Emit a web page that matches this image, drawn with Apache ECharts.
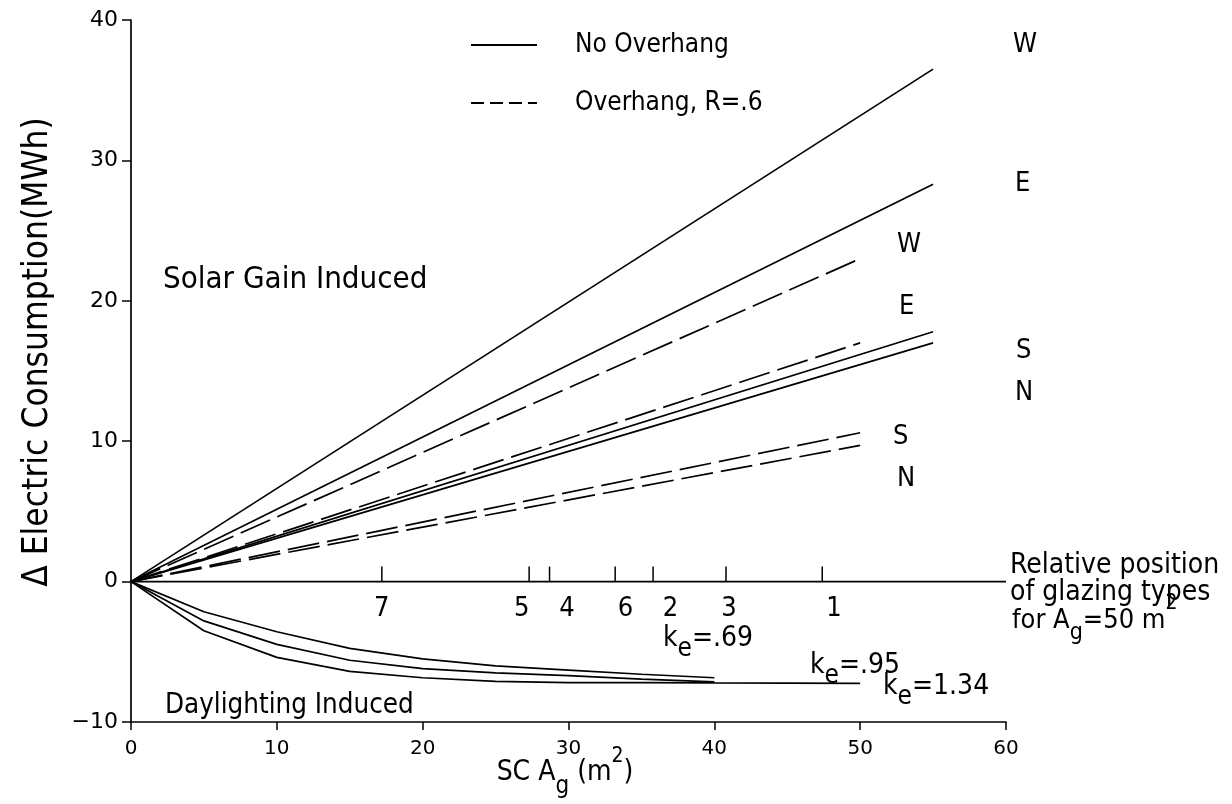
<!DOCTYPE html>
<html>
<head>
<meta charset="utf-8">
<script src="https://cdn.jsdelivr.net/npm/echarts@6/dist/echarts.min.js"></script>
<style>
html,body{margin:0;padding:0;background:#fff;}
#chart{width:1232px;height:804px;}
</style>
</head>
<body>
<div id="chart"></div>
<script>
// ---- data ----
const orientations = ['W', 'E', 'S', 'N'];
const noOverhangX = [0, 55];
const noOverhangEnd = [36.5, 28.3, 17.8, 17.0];
const overhangX = [0, 50];
const overhangEnd = [23.0, 17.0, 10.6, 9.7];

const dayX = [0, 5, 10, 15, 20, 25, 30, 35, 40, 45, 50];
const dayKe069 = [0, -2.15, -3.57, -4.76, -5.5, -6.0, -6.3, -6.6, -6.85];
const dayKe095 = [0, -2.8, -4.47, -5.6, -6.2, -6.5, -6.7, -6.95, -7.14];
const dayKe134 = [0, -3.5, -5.4, -6.4, -6.85, -7.1, -7.2, -7.2, -7.22, -7.23, -7.25];

const glazingTypes = ['7', '5', '4', '6', '2', '3', '1'];
const glazingPos = [17.2, 27.3, 28.7, 33.2, 35.8, 40.8, 47.4];
const glazingLabelPos = [17.2, 26.8, 29.9, 33.9, 37.0, 41.0, 48.2];

// ---- chart ----
const FONT = '"DejaVu Sans Condensed", "Liberation Sans Narrow", "DejaVu Sans", sans-serif';
const TICKFONT = '"DejaVu Sans", sans-serif';
const chart = echarts.init(document.getElementById('chart'), null, {renderer: 'canvas'});

function pairs(xs, ys) { return ys.map((y, i) => [xs[i], y]); }

const series = [];
orientations.forEach((o, i) => {
  series.push({
    name: 'No Overhang ' + o, type: 'line', symbol: 'none', silent: true,
    data: [[noOverhangX[0], 0], [noOverhangX[1], noOverhangEnd[i]]],
    lineStyle: {color: '#000', width: 1.7, type: 'solid'}
  });
  series.push({
    name: 'Overhang ' + o, type: 'line', symbol: 'none', silent: true,
    data: [[overhangX[0], 0], [overhangX[1], overhangEnd[i]]],
    lineStyle: {color: '#000', width: 1.7, type: [32, 8]}
  });
});
[['k_e=.69', dayKe069], ['k_e=.95', dayKe095], ['k_e=1.34', dayKe134]].forEach(([n, ys]) => {
  series.push({
    name: n, type: 'line', symbol: 'none', silent: true,
    data: pairs(dayX, ys),
    lineStyle: {color: '#000', width: 1.7}
  });
});
// zero line
series.push({
  name: 'zero', type: 'line', symbol: 'none', silent: true,
  data: [[0, 0], [60, 0]],
  lineStyle: {color: '#000', width: 1.7}
});
// glazing type position ticks
series.push({
  name: 'glazing', type: 'custom', silent: true,
  data: glazingTypes.map((t, i) => [glazingPos[i], glazingLabelPos[i]]),
  renderItem: function (params, api) {
    const p = api.coord([api.value(0), 0]);
    const lp = api.coord([api.value(1), 0]);
    return {
      type: 'group',
      children: [
        {type: 'line', shape: {x1: p[0], y1: p[1], x2: p[0], y2: p[1] - 15},
         style: {stroke: '#000', lineWidth: 1.5}},
        {type: 'text', x: lp[0], y: p[1] + 27,
         style: {text: glazingTypes[params.dataIndex], font: '27px ' + FONT, fill: '#000',
                 align: 'center', verticalAlign: 'middle'}}
      ]
    };
  }
});

const mctx = document.createElement('canvas').getContext('2d');
function measure(t, size) { mctx.font = size + 'px ' + FONT; return mctx.measureText(t).width; }

function txt(x, y, text, size) {
  return {type: 'text', x: x, y: y, silent: true,
    style: {text: text, font: size + 'px ' + FONT, fill: '#000', align: 'left', verticalAlign: 'middle'}};
}
// parts: [text, size, dy]
function segs(x, y, parts, align) {
  const widths = parts.map(p => measure(p[0], p[1]));
  const total = widths.reduce((a, b) => a + b, 0);
  let cx = align === 'center' ? x - total / 2 : x;
  const children = [];
  parts.forEach((p, i) => {
    children.push({type: 'text', x: cx, y: y + (p[2] || 0), silent: true,
      style: {text: p[0], font: p[1] + 'px ' + FONT, fill: '#000', align: 'left', verticalAlign: 'middle'}});
    cx += widths[i];
  });
  return {type: 'group', silent: true, children: children};
}

const option = {
  animation: false,
  backgroundColor: '#fff',
  grid: {left: 131, right: 226, top: 20, bottom: 82, containLabel: false},
  xAxis: {
    type: 'value', min: 0, max: 60, interval: 10,
    axisLine: {show: true, onZero: false, lineStyle: {color: '#000', width: 1.7}},
    axisTick: {show: true, length: 8, lineStyle: {color: '#000', width: 1.5}},
    axisLabel: {color: '#000', fontSize: 20, fontFamily: TICKFONT, margin: 17},
    splitLine: {show: false}
  },
  yAxis: {
    type: 'value', min: -10, max: 40, interval: 10,
    axisLine: {show: true, onZero: false, lineStyle: {color: '#000', width: 1.7}},
    axisTick: {show: true, length: 9, lineStyle: {color: '#000', width: 1.5}},
    axisLabel: {color: '#000', fontSize: 22, fontFamily: TICKFONT, margin: 13,
      formatter: v => (v < 0 ? '\u2212' + Math.abs(v) : '' + v)},
    splitLine: {show: false}
  },
  series: series,
  graphic: [
    // legend
    {type: 'line', silent: true, shape: {x1: 471, y1: 45, x2: 537, y2: 45}, style: {stroke: '#000', lineWidth: 2}},
    {type: 'line', silent: true, shape: {x1: 471, y1: 103, x2: 537, y2: 103}, style: {stroke: '#000', lineWidth: 2, lineDash: [13, 6]}},
    txt(575, 45, 'No Overhang', 26),
    txt(575, 103, 'Overhang, R=.6', 26),
    // orientation labels
    txt(1013, 45, 'W', 27), txt(1015, 184, 'E', 27),
    txt(897, 245, 'W', 27), txt(899, 307, 'E', 27),
    txt(1016, 351, 'S', 27), txt(1015, 393, 'N', 27),
    txt(893, 437, 'S', 27), txt(897, 479, 'N', 27),
    // region labels
    txt(163, 280, 'Solar Gain Induced', 31),
    txt(165, 706, 'Daylighting Induced', 27.5),
    // relative position note
    txt(1010, 566, 'Relative position', 28),
    txt(1010, 593, 'of glazing types', 28),
    segs(1012, 621, [['for A', 27, 0], ['g', 23, 12], ['=50 m', 27, 0], ['2', 21, -17]], 'left'),
    // k_e labels
    segs(663, 639, [['k', 28, 0], ['e', 26, 10], ['=.69', 28, 0]], 'left'),
    segs(810, 666, [['k', 28, 0], ['e', 26, 10], ['=.95', 28, 0]], 'left'),
    segs(883, 687, [['k', 28, 0], ['e', 26, 10], ['=1.34', 28, 0]], 'left'),
    // axis names
    segs(565, 773, [['SC A', 28, 0], ['g', 24, 14], [' (m', 28, 0], ['2', 21, -16], [')', 28, 0]], 'center'),
    {type: 'text', silent: true, x: 38, y: 352, rotation: Math.PI / 2,
     style: {text: '\u0394 Electric Consumption(MWh)', font: '35px ' + FONT, fill: '#000',
             align: 'center', verticalAlign: 'middle'}}
  ]
};
chart.setOption(option);
</script>
</body>
</html>
